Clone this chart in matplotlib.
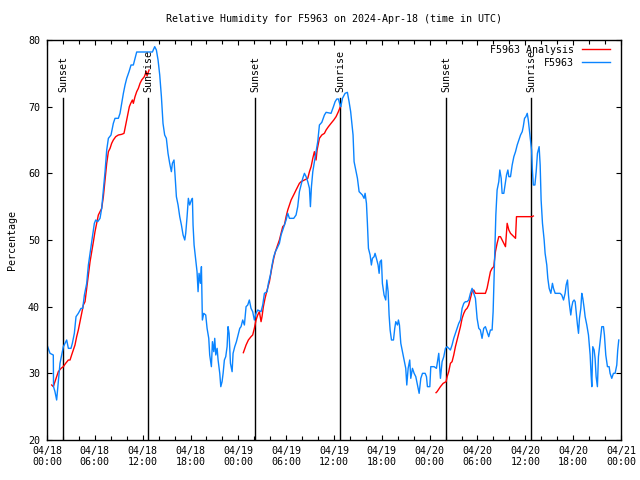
import matplotlib
import matplotlib.pyplot as plt

matplotlib.use("Agg")

# hours since 2024-04-18 00:00 UTC
obs_hours = [
    0.08, 0.38, 0.79, 0.82, 1.00, 1.21, 1.42, 1.63, 1.84, 2.05, 2.26, 2.47, 2.68, 3.01, 3.18, 3.43,
    3.64, 3.93, 4.27, 4.48, 4.69, 4.98, 5.19, 5.40, 5.61, 5.94, 6.11, 6.36, 6.65, 6.86, 7.07, 7.28,
    7.49, 7.70, 8.03, 8.32, 8.53, 8.95, 9.16, 9.37, 9.58, 9.79, 10.00, 10.29, 10.54, 10.83, 11.04, 11.25,
    13.22, 13.51, 13.72, 13.93, 14.14, 14.35, 14.55, 14.76, 14.97, 15.18, 15.39, 15.60, 15.73, 15.93,
    16.06, 16.23, 16.44, 16.65, 16.86, 17.07, 17.28, 17.40, 17.57, 17.73, 17.90, 18.11, 18.24, 18.32,
    18.45, 18.66, 18.82, 18.95, 19.07, 19.24, 19.37, 19.49, 19.66, 19.91, 20.08, 20.29, 20.41, 20.62,
    20.75, 20.92, 21.04, 21.17, 21.34, 21.46, 21.67, 21.80, 21.96, 22.09, 22.25, 22.42, 22.59, 22.71,
    22.84, 23.01, 23.22, 23.34, 23.55, 23.76, 23.97, 24.18,
    24.34, 24.55, 24.76, 24.97, 25.18, 25.38, 25.59, 25.80, 26.01, 26.22, 26.43, 26.85, 27.06, 27.27,
    27.61, 27.77, 28.02, 28.23, 28.44, 28.65, 28.86, 29.15, 29.36, 29.57, 29.78, 29.99, 30.20, 30.41,
    30.95, 31.24, 31.45, 31.66, 31.87, 32.08, 32.29, 32.50, 32.71, 32.92, 33.04, 33.17, 33.34, 33.54,
    33.75, 33.96, 34.17, 34.47, 34.80, 35.01, 35.63, 35.93, 36.14, 36.35, 36.55, 36.76,
    36.85, 37.06, 37.39, 37.68, 37.89, 38.09, 38.22, 38.39, 38.52, 38.73, 38.94, 39.15, 39.36, 39.56,
    39.77, 39.90, 40.07, 40.19, 40.32, 40.53, 40.69, 40.82, 41.03, 41.15, 41.32, 41.53, 41.66, 41.78,
    41.95, 42.07, 42.28, 42.49, 42.62, 42.79, 42.91, 43.04, 43.21, 43.46, 43.62, 43.75, 43.96, 44.08,
    44.21, 44.38, 44.59, 44.80, 45.00, 45.13, 45.30, 45.50, 45.63, 45.84, 46.05, 46.26, 46.47, 46.68,
    46.89, 47.10, 47.43, 47.60, 47.72, 48.02, 48.14, 48.56, 48.85,
    49.14, 49.35, 49.56, 49.77, 49.98, 50.19, 50.39, 50.60, 50.81, 51.02, 51.23, 51.44, 51.65, 51.86,
    52.07, 52.28, 52.48, 52.69, 52.90, 53.11, 53.32, 53.53, 53.74, 53.95, 54.16, 54.36, 54.57, 54.78,
    54.99, 55.20, 55.41, 55.62, 55.83, 55.96, 56.13, 56.30, 56.46, 56.67, 56.80, 56.97, 57.09, 57.30,
    57.51, 57.64, 57.81, 57.93, 58.14, 58.35, 58.56, 58.77, 58.98, 59.19, 59.40, 59.61, 59.74, 59.90,
    60.07, 60.24, 60.37, 60.53, 60.66, 60.78, 60.87, 61.00, 61.20,
    61.36, 61.52, 61.73, 61.86, 61.98, 62.15, 62.36, 62.48, 62.69, 62.82, 62.99, 63.20, 63.40, 63.53,
    63.74, 64.36, 64.57, 64.79, 64.99, 65.12, 65.29, 65.41, 65.54, 65.70, 65.83, 65.96, 66.12, 66.25,
    66.37, 66.54, 66.67, 66.79, 66.96, 67.08, 67.21, 67.38, 67.50, 67.71, 67.92, 68.13, 68.25, 68.34,
    68.46, 68.63, 68.75, 68.88, 69.04, 69.17, 69.38, 69.59, 69.80, 69.92, 70.09, 70.30, 70.51, 70.63,
    70.84, 71.05, 71.26, 71.47, 71.59, 71.72,
]
obs_rh = [
    34.0, 33.0, 32.75, 28.0, 27.25, 26.0, 28.75, 31.5, 32.75, 34.0, 34.5, 35.0, 33.75, 33.75, 34.5, 36.0,
    38.5, 39.0, 39.75, 39.75, 41.75, 43.5, 46.25, 48.0, 49.75, 52.5, 53.0, 52.75, 53.25, 54.75, 57.5, 60.25,
    63.5, 65.25, 65.75, 67.5, 68.25, 68.25, 69.0, 70.5, 72.0, 73.25, 74.25, 75.25, 76.25, 76.25, 77.25, 78.2,
    78.2, 79.0, 78.5, 77.0, 74.75, 71.5, 67.5, 65.75, 65.25, 63.0, 61.5, 60.25, 61.5, 62.0,
    59.75, 56.5, 55.25, 53.5, 52.25, 50.75, 50.0, 51.0, 53.5, 56.25, 55.25, 56.0, 56.25, 52.25,
    49.25, 47.0, 45.25, 42.25, 45.0, 43.5, 46.0, 38.0, 39.0, 38.75, 36.75, 35.25, 32.75, 31.0,
    34.75, 33.25, 35.25, 32.75, 33.75, 32.0, 30.0, 28.0, 28.75, 30.0, 32.0, 32.5, 34.0, 37.0,
    36.0, 31.5, 30.25, 33.0, 34.0, 34.75, 35.75, 36.75,
    37.0, 38.0, 37.25, 40.0, 40.25, 41.0, 39.75, 39.25, 38.0, 39.0, 39.5, 39.25, 40.25, 42.0,
    42.25, 43.5, 44.75, 46.25, 47.5, 48.25, 48.75, 49.5, 50.75, 51.5, 52.25, 53.0, 54.0, 53.25,
    53.25, 53.75, 55.0, 57.25, 58.25, 59.25, 60.0, 59.5, 58.75, 57.75, 55.0, 58.0, 60.25, 61.75,
    63.25, 64.75, 67.25, 67.65, 68.75, 69.15, 69.0, 70.0, 70.75, 71.15, 71.15, 70.25,
    70.0, 71.25, 72.0, 72.15, 70.75, 69.25, 67.75, 65.75, 61.75, 60.5, 59.25, 57.25, 57.0, 56.75,
    56.25, 57.0, 55.5, 52.5, 48.75, 47.75, 46.25, 47.25, 47.5, 48.0, 47.25, 46.25, 45.0, 46.75,
    47.0, 43.5, 41.75, 41.0, 44.0, 42.25, 38.75, 36.5, 35.0, 35.0, 36.75, 37.75, 37.25, 38.0,
    37.25, 34.5, 33.25, 32.0, 30.75, 28.25, 30.75, 32.0, 29.25, 30.75, 30.0, 29.5, 28.25, 27.0,
    29.25, 30.0, 30.0, 29.5, 28.0, 28.0, 31.0, 31.0, 30.75,
    33.0, 29.25, 31.75, 32.5, 33.75, 34.0, 33.75, 33.5, 34.25, 35.25, 36.0, 36.75, 37.5, 38.0,
    39.75, 40.5, 40.75, 40.75, 41.0, 42.0, 42.75, 42.0, 41.25, 38.25, 36.75, 36.5, 35.25, 36.75,
    37.0, 36.25, 35.5, 36.5, 36.5, 39.25, 46.75, 53.75, 57.5, 58.75, 60.5, 59.25, 57.0, 57.0,
    58.75, 59.75, 60.5, 59.5, 59.5, 61.25, 62.5, 63.25, 64.25, 65.0, 65.75, 66.25, 67.0, 68.25,
    68.5, 69.0, 68.0, 66.25, 64.75, 63.5, 60.75, 58.25, 58.25,
    60.25, 63.0, 64.0, 61.25, 56.0, 52.5, 50.0, 48.0, 46.25, 44.25, 42.75, 42.0, 43.5, 42.75,
    42.0, 42.0, 41.75, 41.0, 42.0, 43.25, 44.0, 41.75, 40.25, 38.75, 40.0, 40.75, 41.0, 40.75,
    39.25, 37.25, 36.0, 38.25, 39.75, 42.0, 41.25, 39.75, 38.5, 37.25, 35.75, 32.75, 29.75, 28.0,
    34.0, 33.5, 32.25, 29.5, 28.0, 32.5, 34.75, 37.0, 37.0, 35.75, 32.75, 31.0, 31.0, 30.0,
    29.25, 30.0, 30.0, 31.25, 33.5, 35.0,
]

ana1_hours = [0.59, 0.79, 1.00, 1.21, 1.42, 1.76, 2.05, 2.34, 2.68, 2.89, 3.09, 3.30, 3.51, 3.72,
              3.93, 4.14, 4.35, 4.56, 4.77, 4.98, 5.19, 5.40, 5.61, 5.82, 6.02, 6.23, 6.44, 6.65,
              6.86, 7.07, 7.28, 7.49, 7.70, 7.91, 8.11, 8.32, 8.62, 8.95, 9.37, 9.66, 9.87, 10.12,
              10.33, 10.50, 10.71, 10.83, 11.04, 11.25, 11.46, 11.67, 11.88, 12.21, 12.45, 12.55, 12.80]
ana1_rh = [28.25, 28.0, 28.75, 29.5, 30.25, 30.75, 31.0, 31.5, 32.0, 32.0, 32.75, 33.5, 34.25, 35.5,
           36.5, 37.75, 39.0, 40.25, 40.75, 42.75, 44.75, 46.75, 48.25, 49.75, 51.25, 52.5, 53.75, 54.25,
           54.75, 56.5, 59.0, 61.5, 63.25, 63.75, 64.5, 65.0, 65.5, 65.75, 65.85, 66.0, 67.25, 68.75,
           70.0, 70.5, 71.0, 70.5, 71.5, 72.25, 72.75, 73.5, 74.0, 74.5, 75.3, 74.6, 75.5]

ana2_hours = [24.63, 24.97, 25.26, 25.59, 25.80, 26.01, 26.22, 26.43, 26.64, 26.85, 26.97, 27.14,
              27.35, 27.61, 27.90, 28.19, 28.44, 28.65, 28.86, 29.15, 29.36, 29.57, 29.78, 29.99,
              30.20, 30.41, 30.62, 30.83, 31.04, 31.24, 31.45, 31.66, 31.87, 32.29, 32.71, 32.92,
              33.13, 33.34, 33.54, 33.75, 33.88, 34.17, 34.47, 34.80, 35.01, 35.30, 35.63, 35.97,
              36.26, 36.55, 36.80]
ana2_rh = [33.1, 34.25, 35.0, 35.5, 35.75, 36.75, 38.0, 38.75, 39.25, 37.75, 38.5, 40.0,
           41.25, 42.5, 43.75, 45.75, 47.25, 48.25, 49.0, 50.0, 51.0, 52.0, 52.25, 53.5,
           54.5, 55.25, 56.0, 56.5, 57.0, 57.5, 58.0, 58.5, 58.75, 59.0, 59.25, 60.25,
           61.0, 62.25, 63.25, 62.0, 63.5, 65.25, 65.75, 66.0, 66.5, 67.0, 67.5, 68.0,
           68.5, 69.25, 70.0]

ana3_hours = [48.80, 48.93, 49.35, 49.69, 50.06, 50.19, 50.39, 50.60, 50.81, 51.02, 51.23, 51.44,
              51.65, 51.86, 52.07, 52.28, 52.48, 52.69, 52.90, 53.11, 53.32, 53.53, 53.74, 54.99,
              55.20, 55.41, 55.62, 55.83, 56.04, 56.25, 56.46, 56.67, 56.88, 57.09, 57.30, 57.51,
              57.72, 57.93, 58.14, 58.35, 58.77, 58.89, 60.87, 61.00]
ana3_rh = [27.1, 27.25, 28.0, 28.5, 28.75, 29.5, 30.25, 31.5, 31.75, 32.75, 34.0, 35.0,
           36.0, 37.0, 38.25, 39.0, 39.5, 39.75, 40.25, 41.25, 42.25, 42.5, 42.0, 42.0,
           42.75, 44.0, 45.25, 45.75, 46.0, 48.25, 49.5, 50.5, 50.5, 50.0, 49.5, 49.0,
           52.5, 51.5, 51.0, 50.75, 50.25, 53.5, 53.5, 53.6]

sunset_hours = [2.05, 26.12, 50.1]
sunrise_hours = [12.73, 36.76, 60.73]

xtick_hours = [0, 6, 12, 18, 24, 30, 36, 42, 48, 54, 60, 66, 72]
xtick_labels = [
    "04/18\n00:00", "04/18\n06:00", "04/18\n12:00", "04/18\n18:00",
    "04/19\n00:00", "04/19\n06:00", "04/19\n12:00", "04/19\n18:00",
    "04/20\n00:00", "04/20\n06:00", "04/20\n12:00", "04/20\n18:00",
    "04/21\n00:00",
]

FONT = "DejaVu Sans Mono"
FS = 7.2
RED = "#ff0000"
BLUE = "#0a84ff"

plt.rcParams["font.family"] = FONT
plt.rcParams["font.size"] = FS

fig = plt.figure(figsize=(6.4, 4.8), dpi=100)
ax = fig.add_axes([47 / 640, 40 / 480, 574 / 640, 400 / 480])

line_top = 71.25
for h in sunset_hours:
    ax.plot([h, h], [20, line_top], color="black", lw=1.0)
    ax.text(h, 72.2, "Sunset", rotation=90, ha="center", va="bottom", fontsize=FS)
for h in sunrise_hours:
    ax.plot([h, h], [20, line_top], color="black", lw=1.0)
    ax.text(h, 72.2, "Sunrise", rotation=90, ha="center", va="bottom", fontsize=FS)

ax.plot(ana1_hours, ana1_rh, color=RED, lw=1.0, label="F5963 Analysis")
ax.plot(ana2_hours, ana2_rh, color=RED, lw=1.0)
ax.plot(ana3_hours, ana3_rh, color=RED, lw=1.0)
ax.plot(obs_hours, obs_rh, color=BLUE, lw=1.0, label="F5963")

ax.set_xlim(0, 72)
ax.set_ylim(20, 80)
ax.set_yticks(range(20, 81, 10))
ax.set_xticks(xtick_hours)
ax.set_xticklabels(xtick_labels)
ax.set_xticks(range(0, 73, 2), minor=True)
ax.tick_params(axis="both", which="both", direction="in", top=True, right=True,
               width=0.8, labelsize=FS)
ax.tick_params(axis="both", which="major", length=3.5)
ax.tick_params(axis="both", which="minor", length=3.0)
ax.tick_params(axis="x", which="major", pad=4)
ax.tick_params(axis="y", which="major", pad=5)
for spine in ax.spines.values():
    spine.set_linewidth(1.0)

fig.text(334 / 640, 1 - 19 / 480, "Relative Humidity for F5963 on 2024-Apr-18 (time in UTC)",
         ha="center", va="center", fontsize=FS)
fig.text(12 / 640, 0.5, "Percentage", rotation=90, ha="center", va="center", fontsize=FS)

leg = ax.legend(loc="upper right", bbox_to_anchor=(1 - 11 / 574, 1 - 5 / 400), frameon=False,
                markerfirst=False, handlelength=2.8, handletextpad=0.8, borderpad=0,
                borderaxespad=0, labelspacing=0.3, fontsize=FS)

fig.savefig("out.png", dpi=100)
